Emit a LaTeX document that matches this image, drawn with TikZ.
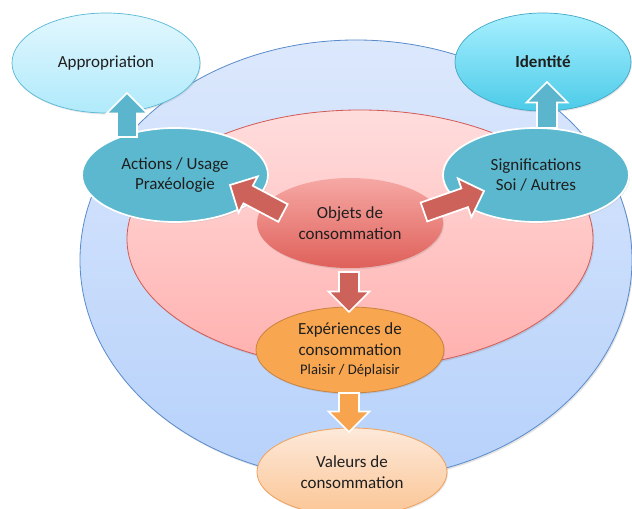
\documentclass[tikz,border=0pt]{standalone}
\usepackage{fontspec}
\setmainfont{Carlito}
\usepackage{xcolor}
\usetikzlibrary{positioning,calc,shapes.geometric,shadows}

\definecolor{ringBlueTop}{HTML}{DCE8FC}
\definecolor{ringBlueBot}{HTML}{B6D1FB}
\definecolor{ringBlueLine}{HTML}{5A8CCC}
\definecolor{ringPinkTop}{HTML}{FFDDDD}
\definecolor{ringPinkBot}{HTML}{FFB0AE}
\definecolor{ringPinkLine}{HTML}{D25D57}
\definecolor{objTop}{HTML}{F6A8A4}
\definecolor{objBot}{HTML}{DF605A}
\definecolor{tealMid}{HTML}{5BB8CE}
\definecolor{appTop}{HTML}{E2F7FE}
\definecolor{appBot}{HTML}{B0EAFB}
\definecolor{appLine}{HTML}{56B8D6}
\definecolor{ideTop}{HTML}{A8F0FF}
\definecolor{ideBot}{HTML}{4CCBE8}
\definecolor{ideLine}{HTML}{43A8C6}
\definecolor{expFill}{HTML}{F9A650}
\definecolor{expLine}{HTML}{C98440}
\definecolor{valTop}{HTML}{FDE9DA}
\definecolor{valBot}{HTML}{FBC594}
\definecolor{valLine}{HTML}{F0A25C}
\definecolor{arrRed}{HTML}{CC625A}
\definecolor{arrTeal}{HTML}{5BB6CD}
\definecolor{arrOrange}{HTML}{F8A34E}

\tikzset{
	bubble/.style={ellipse, inner sep=0pt, align=center,
		font=\fontsize{14.5}{17.5}\selectfont, text=black!88},
	ring/.style={ellipse, inner sep=0pt, line width=0.7pt,
		drop shadow={opacity=0.22, shadow xshift=1pt, shadow yshift=-1.5pt}},
	soft/.style={drop shadow={opacity=0.2, shadow xshift=0.8pt, shadow yshift=-1.2pt}}
}

% block arrow: fill colour, tail, tip
\def\shaftW{8.5pt}
\def\headW{17.5pt}
\def\headL{17.5pt}
\newcommand\blockarrow[3]{%
	\coordinate (ba-h) at ($(#3)!\headL!(#2)$);
	\filldraw[fill=#1, draw=white, line width=1.5pt, line join=miter]
	($(#2)!\shaftW!90:(#3)$) -- ($(ba-h)!\shaftW!90:(#3)$)
	-- ($(ba-h)!\headW!90:(#3)$) -- (#3)
	-- ($(ba-h)!\headW!-90:(#3)$) -- ($(ba-h)!\shaftW!-90:(#3)$)
	-- ($(#2)!\shaftW!-90:(#3)$) -- cycle;
}

\begin{document}
\begin{tikzpicture}[
	x=0.03cm,y=-0.03cm,
	line cap=round,line join=round
	]
	\useasboundingbox (0,0) rectangle (632,509);
	
	% ---- rings
	\node[ring, draw=ringBlueLine, top color=ringBlueTop, bottom color=ringBlueBot,
		minimum width=16.56cm, minimum height=13.2cm] (outer) at (356,260) {};
	\node[ring, draw=ringPinkLine, top color=ringPinkTop, bottom color=ringPinkBot,
		minimum width=13.98cm, minimum height=7.74cm] (inner) at (360,239) {};
	
	% ---- bubbles
	\node[bubble, soft, top color=objTop, bottom color=objBot,
		minimum width=5.58cm, minimum height=2.7cm] (obj) at (350,223) {Objets de\\consommation};
	\node[bubble, soft, fill=tealMid, draw=white, line width=1.5pt,
		minimum width=5.58cm, minimum height=2.82cm] (act) at (175,175) {Actions / Usage\\Praxéologie};
	\node[bubble, soft, fill=tealMid, draw=white, line width=1.5pt,
		minimum width=5.58cm, minimum height=2.82cm] (sig) at (536,175) {Significations\\Soi / Autres};
	\node[bubble, soft, draw=appLine, top color=appTop, bottom color=appBot, line width=0.6pt,
		minimum width=5.64cm, minimum height=3cm] (app) at (106,63) {Appropriation};
	\node[bubble, soft, draw=ideLine, top color=ideTop, bottom color=ideBot, line width=0.6pt,
		minimum width=5.28cm, minimum height=2.94cm, font=\fontsize{14.5}{17.5}\selectfont\bfseries] (ide) at (543,62) {Identité};
	\node[bubble, soft, fill=expFill, draw=expLine, line width=0.7pt,
		minimum width=5.64cm, minimum height=2.58cm] (exp) at (350,350)
		{Expériences de\\consommation\\[-1pt]{\fontsize{12.5}{15}\selectfont Plaisir / Déplaisir}};
	\node[bubble, soft, draw=valLine, top color=valTop, bottom color=valBot, line width=0.7pt,
		minimum width=5.7cm, minimum height=2.64cm] (val) at (352,472) {Valeurs de\\consommation};
	
	% ---- arrow ends
	\coordinate (actT) at ($(act)+(-48,-38)$);
	\coordinate (appH) at ($(app)+(21,30)$);
	\coordinate (sigT) at ($(sig)+(11,-47)$);
	\coordinate (ideH) at ($(ide)+(4,20)$);
	\coordinate (objL) at ($(obj)+(-67,-10)$);
	\coordinate (actH) at ($(act)+(55,10)$);
	\coordinate (objR) at ($(obj)+(74,-11)$);
	\coordinate (sigH) at ($(sig)+(-52,16)$);
	\coordinate (objB) at ($(obj)+(-1,49)$);
	\coordinate (expH) at ($(exp)+(-1,-38)$);
	\coordinate (expB) at ($(exp)+(-1,43)$);
	\coordinate (valH) at ($(val)+(-3,-40)$);
	
	% ---- arrows
	\blockarrow{arrTeal}{actT}{appH}
	\blockarrow{arrTeal}{sigT}{ideH}
	\blockarrow{arrRed}{objL}{actH}
	\blockarrow{arrRed}{objR}{sigH}
	\blockarrow{arrRed}{objB}{expH}
	\blockarrow{arrOrange}{expB}{valH}
\end{tikzpicture}
\end{document}
